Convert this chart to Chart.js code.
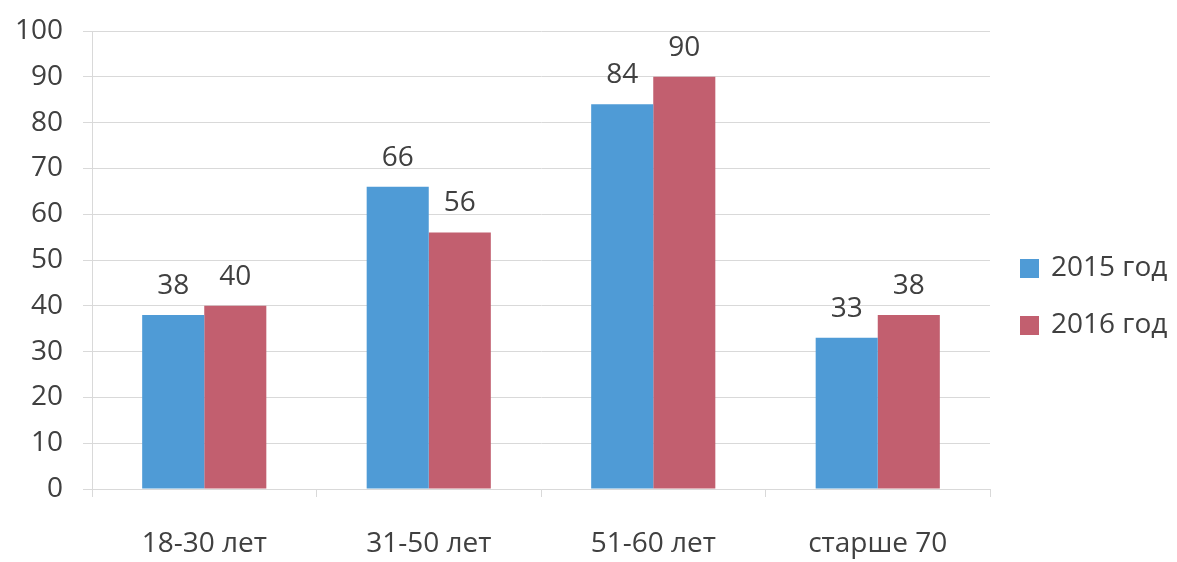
<!DOCTYPE html>
<html>
<head>
<meta charset="utf-8">
<script src="https://cdn.jsdelivr.net/npm/chart.js@4/dist/chart.umd.min.js"></script>
<style>
    html, body { margin: 0; padding: 0; background: #fff; }
    #wrap { width: 1177px; height: 562px; }
</style>
</head>
<body>
<div id="wrap"><canvas id="ageChart" width="1177" height="562"></canvas></div>
<script>
// Data
const categories = ['18-30 лет', '31-50 лет', '51-60 лет', 'старше 70'];
const seriesNames = ['2015 год', '2016 год'];
const values2015 = [38, 66, 84, 33];
const values2016 = [40, 56, 90, 38];
const yTicks = [0, 10, 20, 30, 40, 50, 60, 70, 80, 90, 100];

const blue = '#4f9bd6';
const red = '#c25f6f';
const textColor = '#404040';
const fontFamily = '"Open Sans", "Noto Sans", sans-serif';
const fontSize = 28;

// Value labels above each bar
const barLabels = {
    id: 'barLabels',
    afterDatasetsDraw(chart) {
        const c = chart.ctx;
        c.save();
        c.font = fontSize + 'px ' + fontFamily;
        c.fillStyle = textColor;
        c.textAlign = 'center';
        c.textBaseline = 'middle';
        chart.data.datasets.forEach((ds, i) => {
            chart.getDatasetMeta(i).data.forEach((bar, j) => {
                c.fillText(String(ds.data[j]), bar.x, bar.y - 29);
            });
        });
        c.restore();
    }
};

// Legend on the right, drawn by hand so the plot area keeps its width
const sideLegend = {
    id: 'sideLegend',
    afterDraw(chart) {
        const c = chart.ctx;
        c.save();
        c.font = fontSize + 'px ' + fontFamily;
        c.textBaseline = 'middle';
        c.textAlign = 'left';
        chart.data.datasets.forEach((ds, i) => {
            const y = 268 + i * 57;
            c.fillStyle = ds.backgroundColor;
            c.fillRect(1020, y - 9, 19, 19);
            c.fillStyle = textColor;
            c.fillText(ds.label, 1051, y);
        });
        c.restore();
    }
};

const ctx = document.getElementById('ageChart').getContext('2d');

const ageChart = new Chart(ctx, {
    type: 'bar',
    data: {
        labels: categories,
        datasets: [
            { label: seriesNames[0], data: values2015, backgroundColor: blue },
            { label: seriesNames[1], data: values2016, backgroundColor: red }
        ]
    },
    options: {
        responsive: false,
        animation: false,
        devicePixelRatio: 1,
        layout: { padding: { top: 31, right: 187, left: 0, bottom: 0 } },
        datasets: {
            bar: { categoryPercentage: 0.553, barPercentage: 1.0 }
        },
        plugins: {
            legend: { display: false },
            tooltip: { enabled: false }
        },
        scales: {
            x: {
                offset: true,
                grid: {
                    offset: true,
                    drawOnChartArea: false,
                    color: '#d9d9d9',
                    tickLength: 8
                },
                border: { color: '#d9d9d9' },
                ticks: {
                    color: textColor,
                    padding: 30,
                    font: { family: fontFamily, size: fontSize }
                },
                afterFit(scale) { scale.height = 73; }
            },
            y: {
                min: 0,
                max: 100,
                afterBuildTicks(scale) { scale.ticks = yTicks.map(v => ({ value: v })); },
                grid: { color: '#d9d9d9', tickLength: 9 },
                border: { color: '#d9d9d9' },
                ticks: {
                    color: textColor,
                    padding: 20,
                    font: { family: fontFamily, size: fontSize }
                },
                afterFit(scale) {
                    scale.width = 92;
                    scale.paddingTop = 0;
                    scale.paddingBottom = 0;
                }
            }
        }
    },
    plugins: [barLabels, sideLegend]
});
</script>
</body>
</html>
